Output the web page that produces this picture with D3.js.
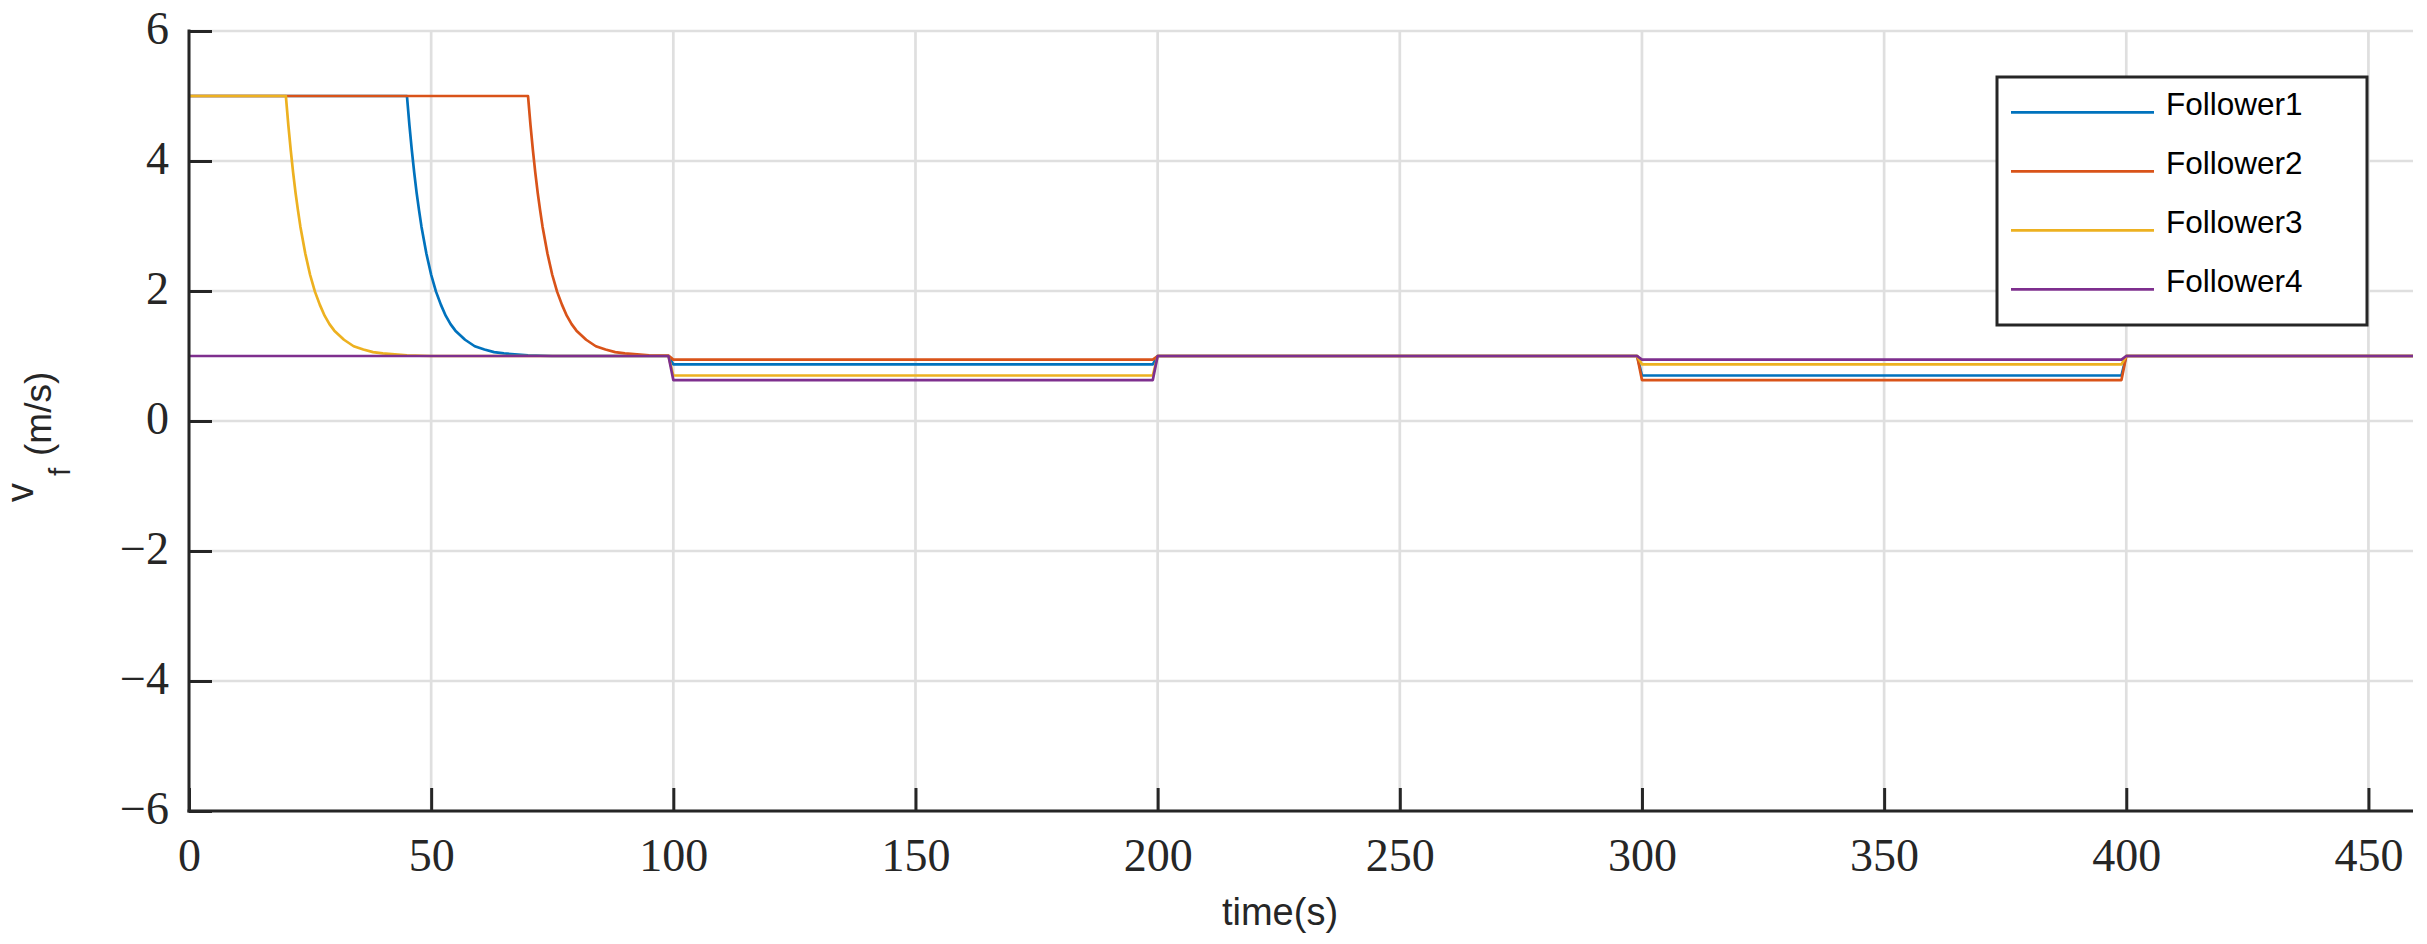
<!DOCTYPE html>
<html><head><meta charset="utf-8">
<script src="https://cdn.jsdelivr.net/npm/d3@7"></script>
<style>html,body{margin:0;padding:0;background:#fff;}svg{display:block;}</style>
</head><body>
<svg id="chart" width="2427" height="944"></svg>
<script>
// ---- data ----
const seriesNames = ["Follower1", "Follower2", "Follower3", "Follower4"];
const seriesColors = ["#0072BD", "#D95319", "#EDB120", "#7E2F8E"];

const f1Time  = [0,45,45.5,46,46.5,47,47.5,48,49,50,51,52,53,54,55,57,59,61,63,65,70,75,99,100,199,200,299,300,399,400,460];
const f1Value = [5,5,4.56,4.17,3.82,3.51,3.24,2.99,2.58,2.25,1.99,1.79,1.62,1.49,1.39,1.25,1.15,1.10,1.06,1.04,1.01,1.0,1.0,0.87,0.87,1,1,0.70,0.70,1,1];

const f2Time  = [0,70,70.5,71,71.5,72,72.5,73,74,75,76,77,78,79,80,82,84,86,88,90,95,99,100,199,200,299,300,399,400,460];
const f2Value = [5,5,4.56,4.17,3.82,3.51,3.24,2.99,2.58,2.25,1.99,1.79,1.62,1.49,1.39,1.25,1.15,1.10,1.06,1.04,1.01,1.005,0.945,0.945,1,1,0.63,0.63,1,1];

const f3Time  = [0,20,20.5,21,21.5,22,22.5,23,24,25,26,27,28,29,30,32,34,36,38,40,45,50,99,100,199,200,299,300,399,400,460];
const f3Value = [5,5,4.56,4.17,3.82,3.51,3.24,2.99,2.58,2.25,1.99,1.79,1.62,1.49,1.39,1.25,1.15,1.10,1.06,1.04,1.01,1.0,1.0,0.70,0.70,1,1,0.87,0.87,1,1];

const f4Time  = [0,99,100,199,200,299,300,399,400,460];
const f4Value = [1,1,0.63,0.63,1,1,0.945,0.945,1,1];

const xTicks = [0,50,100,150,200,250,300,350,400,450];
const yTicks = [-6,-4,-2,0,2,4,6];
const xDomain = [0, 459.2];
const yDomain = [-6, 6];

// ---- layout ----
const L = 189, R = 2413, T = 31, B = 811;
const svg = d3.select("#chart");
const x = d3.scaleLinear().domain(xDomain).range([L, R]);
const y = d3.scaleLinear().domain(yDomain).range([B, T]);
const axisColor = "#262626";
const gridColor = "#dfdfdf";

// grid
svg.append("g").selectAll("line").data(xTicks).join("line")
  .attr("x1", d => x(d)).attr("x2", d => x(d)).attr("y1", T).attr("y2", B)
  .attr("stroke", gridColor).attr("stroke-width", 2.7);
svg.append("g").selectAll("line").data(yTicks).join("line")
  .attr("x1", L).attr("x2", R).attr("y1", d => y(d)).attr("y2", d => y(d))
  .attr("stroke", gridColor).attr("stroke-width", 2.7);

// lines
svg.append("clipPath").attr("id", "clip").append("rect")
  .attr("x", L).attr("y", T - 5).attr("width", R - L).attr("height", B - T + 10);
const series = [
  {t: f1Time, v: f1Value},
  {t: f2Time, v: f2Value},
  {t: f3Time, v: f3Value},
  {t: f4Time, v: f4Value}
];
const line = d3.line().x(d => x(d[0])).y(d => y(d[1]));
const lg = svg.append("g").attr("clip-path", "url(#clip)");
series.forEach((s, i) => {
  const pts = s.t.map((t, j) => [t, s.v[j]]);
  lg.append("path").datum(pts).attr("d", line)
    .attr("fill", "none").attr("stroke", seriesColors[i])
    .attr("stroke-width", 2.7).attr("stroke-linejoin", "round");
});

// axes
const xAxis = d3.axisBottom(x).tickValues(xTicks).tickSize(-23).tickPadding(0).tickFormat(d => d);
const gx = svg.append("g").attr("transform", `translate(0,${B})`).call(xAxis);
gx.select(".domain").remove();
gx.selectAll(".tick line").attr("stroke", axisColor).attr("stroke-width", 3);
gx.selectAll(".tick text").attr("y", 60).attr("dy", 0)
  .attr("font-family", "Liberation Serif, Times New Roman, serif").attr("font-size", 46)
  .attr("fill", axisColor);

const yAxis = d3.axisLeft(y).tickValues(yTicks).tickSize(-23).tickPadding(0)
  .tickFormat(d => d < 0 ? "\u2212" + Math.abs(d) : String(d));
const gy = svg.append("g").attr("transform", `translate(${L},0)`).call(yAxis);
gy.select(".domain").remove();
gy.selectAll(".tick line").attr("stroke", axisColor).attr("stroke-width", 3);
gy.selectAll(".tick text").attr("x", -20).attr("dy", 0).attr("y", 12)
  .attr("text-anchor", "end")
  .attr("font-family", "Liberation Serif, Times New Roman, serif").attr("font-size", 46)
  .attr("fill", axisColor);

// axis lines
svg.append("line").attr("x1", L).attr("x2", L).attr("y1", T - 1.5).attr("y2", B + 1.5)
  .attr("stroke", axisColor).attr("stroke-width", 3);
svg.append("line").attr("x1", L - 1.5).attr("x2", R).attr("y1", B).attr("y2", B)
  .attr("stroke", axisColor).attr("stroke-width", 3);

// axis labels
const sans = "Liberation Sans, Arial, sans-serif";
svg.append("text").attr("x", 1280).attr("y", 925).attr("text-anchor", "middle")
  .attr("font-family", sans).attr("font-size", 38).attr("fill", axisColor).text("time(s)");
svg.append("text").attr("transform", "translate(33,502) rotate(-90)")
  .attr("font-family", sans).attr("font-size", 38).attr("fill", axisColor).text("v");
svg.append("text").attr("transform", "translate(70,476) rotate(-90)")
  .attr("font-family", sans).attr("font-size", 30).attr("fill", axisColor).text("f");
svg.append("text").attr("transform", "translate(51,456) rotate(-90)")
  .attr("font-family", sans).attr("font-size", 37).attr("fill", axisColor).text("(m/s)");

// legend
const lgX = 1997, lgY = 77, lgW = 370, lgH = 248;
const leg = svg.append("g");
leg.append("rect").attr("x", lgX).attr("y", lgY).attr("width", lgW).attr("height", lgH)
  .attr("fill", "#fff").attr("stroke", axisColor).attr("stroke-width", 3);
const legY = d3.scalePoint().domain(seriesNames).range([112.3, 289.3]);
seriesNames.forEach((n, i) => {
  leg.append("line").attr("x1", 2011).attr("x2", 2154)
    .attr("y1", legY(n)).attr("y2", legY(n))
    .attr("stroke", seriesColors[i]).attr("stroke-width", 2.7);
  leg.append("text").attr("x", 2166).attr("y", legY(n) + 3)
    .attr("font-family", sans).attr("font-size", 31.5).attr("fill", "#000").text(n);
});
</script>
</body></html>
